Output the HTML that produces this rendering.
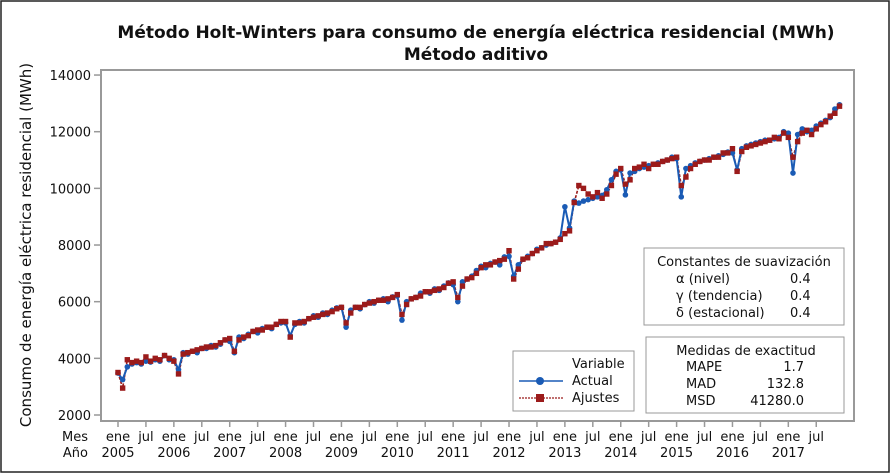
<!DOCTYPE html>
<html><head><meta charset="utf-8"><style>
body{margin:0;background:#fff;}
svg{display:block;font-family:"DejaVu Sans","Liberation Sans",sans-serif;}
</style></head><body>
<svg id="c" width="891" height="474">
<rect x="1" y="1" width="888" height="471" fill="#fff" stroke="#222" stroke-width="1.5"/>
<text x="476" y="38" text-anchor="middle" font-size="17" font-weight="bold" fill="#111">Método Holt-Winters para consumo de energía eléctrica residencial (MWh)</text>
<text x="476" y="60" text-anchor="middle" font-size="17" font-weight="bold" fill="#111">Método aditivo</text>
<rect x="101" y="70" width="753" height="351" fill="#fff" stroke="#999" stroke-width="2"/>
<text transform="translate(31,245) rotate(-90)" text-anchor="middle" font-size="15" fill="#111">Consumo de energía eléctrica residencial (MWh)</text>
<g id="yt"></g><g id="xt"></g><g id="series"></g>
<text x="88" y="441" text-anchor="end" font-size="13" fill="#111">Mes</text>
<text x="88" y="457" text-anchor="end" font-size="13" fill="#111">Año</text>
<g>
<rect x="644" y="248" width="200" height="77" fill="#fff" stroke="#999"/>
<text x="744" y="266" text-anchor="middle" font-size="13" fill="#111">Constantes de suavización</text>
<text x="676" y="283" font-size="13" fill="#111">α (nivel)</text><text x="790" y="283" font-size="13" fill="#111">0.4</text>
<text x="676" y="300" font-size="13" fill="#111">γ (tendencia)</text><text x="790" y="300" font-size="13" fill="#111">0.4</text>
<text x="676" y="317" font-size="13" fill="#111">δ (estacional)</text><text x="790" y="317" font-size="13" fill="#111">0.4</text>
</g>
<g>
<rect x="646" y="337" width="198" height="76" fill="#fff" stroke="#999"/>
<text x="746" y="355" text-anchor="middle" font-size="13" fill="#111">Medidas de exactitud</text>
<text x="686" y="371" font-size="13" fill="#111">MAPE</text><text x="804" y="371" text-anchor="end" font-size="13" fill="#111">1.7</text>
<text x="686" y="388" font-size="13" fill="#111">MAD</text><text x="804" y="388" text-anchor="end" font-size="13" fill="#111">132.8</text>
<text x="686" y="405" font-size="13" fill="#111">MSD</text><text x="804" y="405" text-anchor="end" font-size="13" fill="#111">41280.0</text>
</g>
<g>
<rect x="513" y="351" width="121" height="60" fill="#fff" stroke="#999"/>
<text x="572" y="368" font-size="13" fill="#111">Variable</text>
<line x1="519" y1="381" x2="563" y2="381" stroke="#1a5bb5" stroke-width="1.5"/><circle cx="540" cy="381" r="4" fill="#1a5bb5"/>
<text x="572" y="385" font-size="13" fill="#111">Actual</text>
<line x1="519" y1="398" x2="563" y2="398" stroke="#9b1b1b" stroke-width="1.3" stroke-dasharray="2,1"/><rect x="536" y="394" width="8" height="8" fill="#9b1b1b"/>
<text x="572" y="402" font-size="13" fill="#111">Ajustes</text>
</g>
</svg>
<script>
const yTicks=[2000,4000,6000,8000,10000,12000,14000];
const years=[2005,2006,2007,2008,2009,2010,2011,2012,2013,2014,2015,2016,2017];
const actual=[
3480,3250,3700,3800,3850,3800,3900,3870,3950,3900,4100,3950,
3950,3600,4200,4150,4250,4200,4350,4350,4450,4400,4500,4650,
4600,4200,4750,4700,4850,4950,4900,5050,5100,5050,5200,5250,
5250,4800,5200,5300,5250,5400,5500,5450,5600,5550,5700,5780,
5800,5100,5700,5800,5750,5900,6000,5950,6050,6100,6000,6170,
6200,5350,6000,6100,6150,6300,6350,6300,6450,6400,6550,6660,
6600,6000,6700,6800,6900,7100,7250,7200,7350,7400,7300,7580,
7600,6900,7300,7500,7600,7700,7850,7900,8000,8050,8100,8250,
9350,8600,9550,9480,9550,9600,9650,9700,9750,9950,10300,10600,
10650,9770,10540,10600,10700,10750,10800,10850,10900,10950,11000,11100,
11050,9700,10700,10800,10900,10950,11000,11050,11100,11150,11200,11280,
11250,10650,11400,11500,11550,11600,11650,11700,11700,11750,11800,12000,
11950,10540,11900,12100,12000,12050,12200,12300,12400,12500,12800,12950];
const fitted=[
3500,2950,3950,3850,3900,3850,4050,3900,4000,3950,4100,4000,
3900,3450,4150,4200,4250,4300,4350,4400,4400,4450,4550,4650,
4700,4250,4650,4750,4800,4950,5000,5000,5100,5100,5200,5300,
5300,4750,5250,5250,5300,5400,5450,5500,5550,5600,5650,5750,
5800,5250,5600,5800,5800,5900,5950,6000,6050,6050,6100,6150,
6250,5550,5900,6100,6150,6200,6350,6350,6400,6450,6500,6650,
6700,6150,6550,6800,6850,7000,7200,7300,7300,7400,7450,7500,
7800,6800,7150,7500,7550,7700,7800,7900,8050,8050,8100,8200,
8400,8500,9500,10100,10000,9800,9700,9850,9650,9800,10100,10500,
10700,10150,10300,10700,10750,10850,10700,10850,10850,10950,11000,11050,
11100,10100,10400,10700,10850,10950,11000,11000,11100,11100,11250,11250,
11400,10600,11300,11450,11500,11550,11600,11650,11700,11800,11750,11950,
11800,11100,11650,11950,12050,11900,12100,12250,12350,12550,12650,12900];
const NS="http://www.w3.org/2000/svg";
const X0=118,DX=4.655,Y0=415,PY=28.33;
const xs=i=>X0+i*DX, ys=v=>Y0-(v-2000)/1000*PY;
function mk(t,a,p){const e=document.createElementNS(NS,t);for(const k in a)e.setAttribute(k,a[k]);(p||document.getElementById('c')).appendChild(e);return e;}
const yt=document.getElementById('yt');
yTicks.forEach(v=>{
 const l=mk('line',{x1:94,x2:101,y1:ys(v),y2:ys(v),stroke:'#999','stroke-width':1.5},yt);
 
 
 const t=mk('text',{x:91,y:ys(v)+5,'text-anchor':'end','font-size':13,fill:'#111'},yt);t.textContent=v;
 
 
});
const xt=document.getElementById('xt');
for(let m=0;m<156;m+=6){
 const l=mk('line',{x1:xs(m),x2:xs(m),y1:421,y2:427,stroke:'#999','stroke-width':1.5},xt);
 
 
 const t=mk('text',{x:xs(m),y:441,'text-anchor':'middle','font-size':13,fill:'#111'},xt);t.textContent=(m%12==0)?'ene':'jul';
 
 
}
years.forEach((y,i)=>{
 const t=mk('text',{x:xs(i*12),y:457,'text-anchor':'middle','font-size':13,fill:'#111'},xt);t.textContent=y;
 
 
});
const sg=document.getElementById('series');
const pf=mk('polyline',{points:fitted.map((v,i)=>xs(i)+','+ys(v)).join(' '),fill:'none',stroke:'#9b1b1b','stroke-width':1.6,'stroke-dasharray':'3,1.5'},sg);


const pa=mk('polyline',{points:actual.map((v,i)=>xs(i)+','+ys(v)).join(' '),fill:'none',stroke:'#1a5bb5','stroke-width':2},sg);


actual.forEach((v,i)=>{
 const c=mk('circle',{cx:xs(i),cy:ys(v),r:2.8,fill:'#1a5bb5'},sg);
 
 
});
fitted.forEach((v,i)=>{
 const r=mk('rect',{x:xs(i)-2.7,y:ys(v)-2.7,width:5.4,height:5.4,fill:'#9b1b1b'},sg);
 
 
});
</script>
</body></html>
